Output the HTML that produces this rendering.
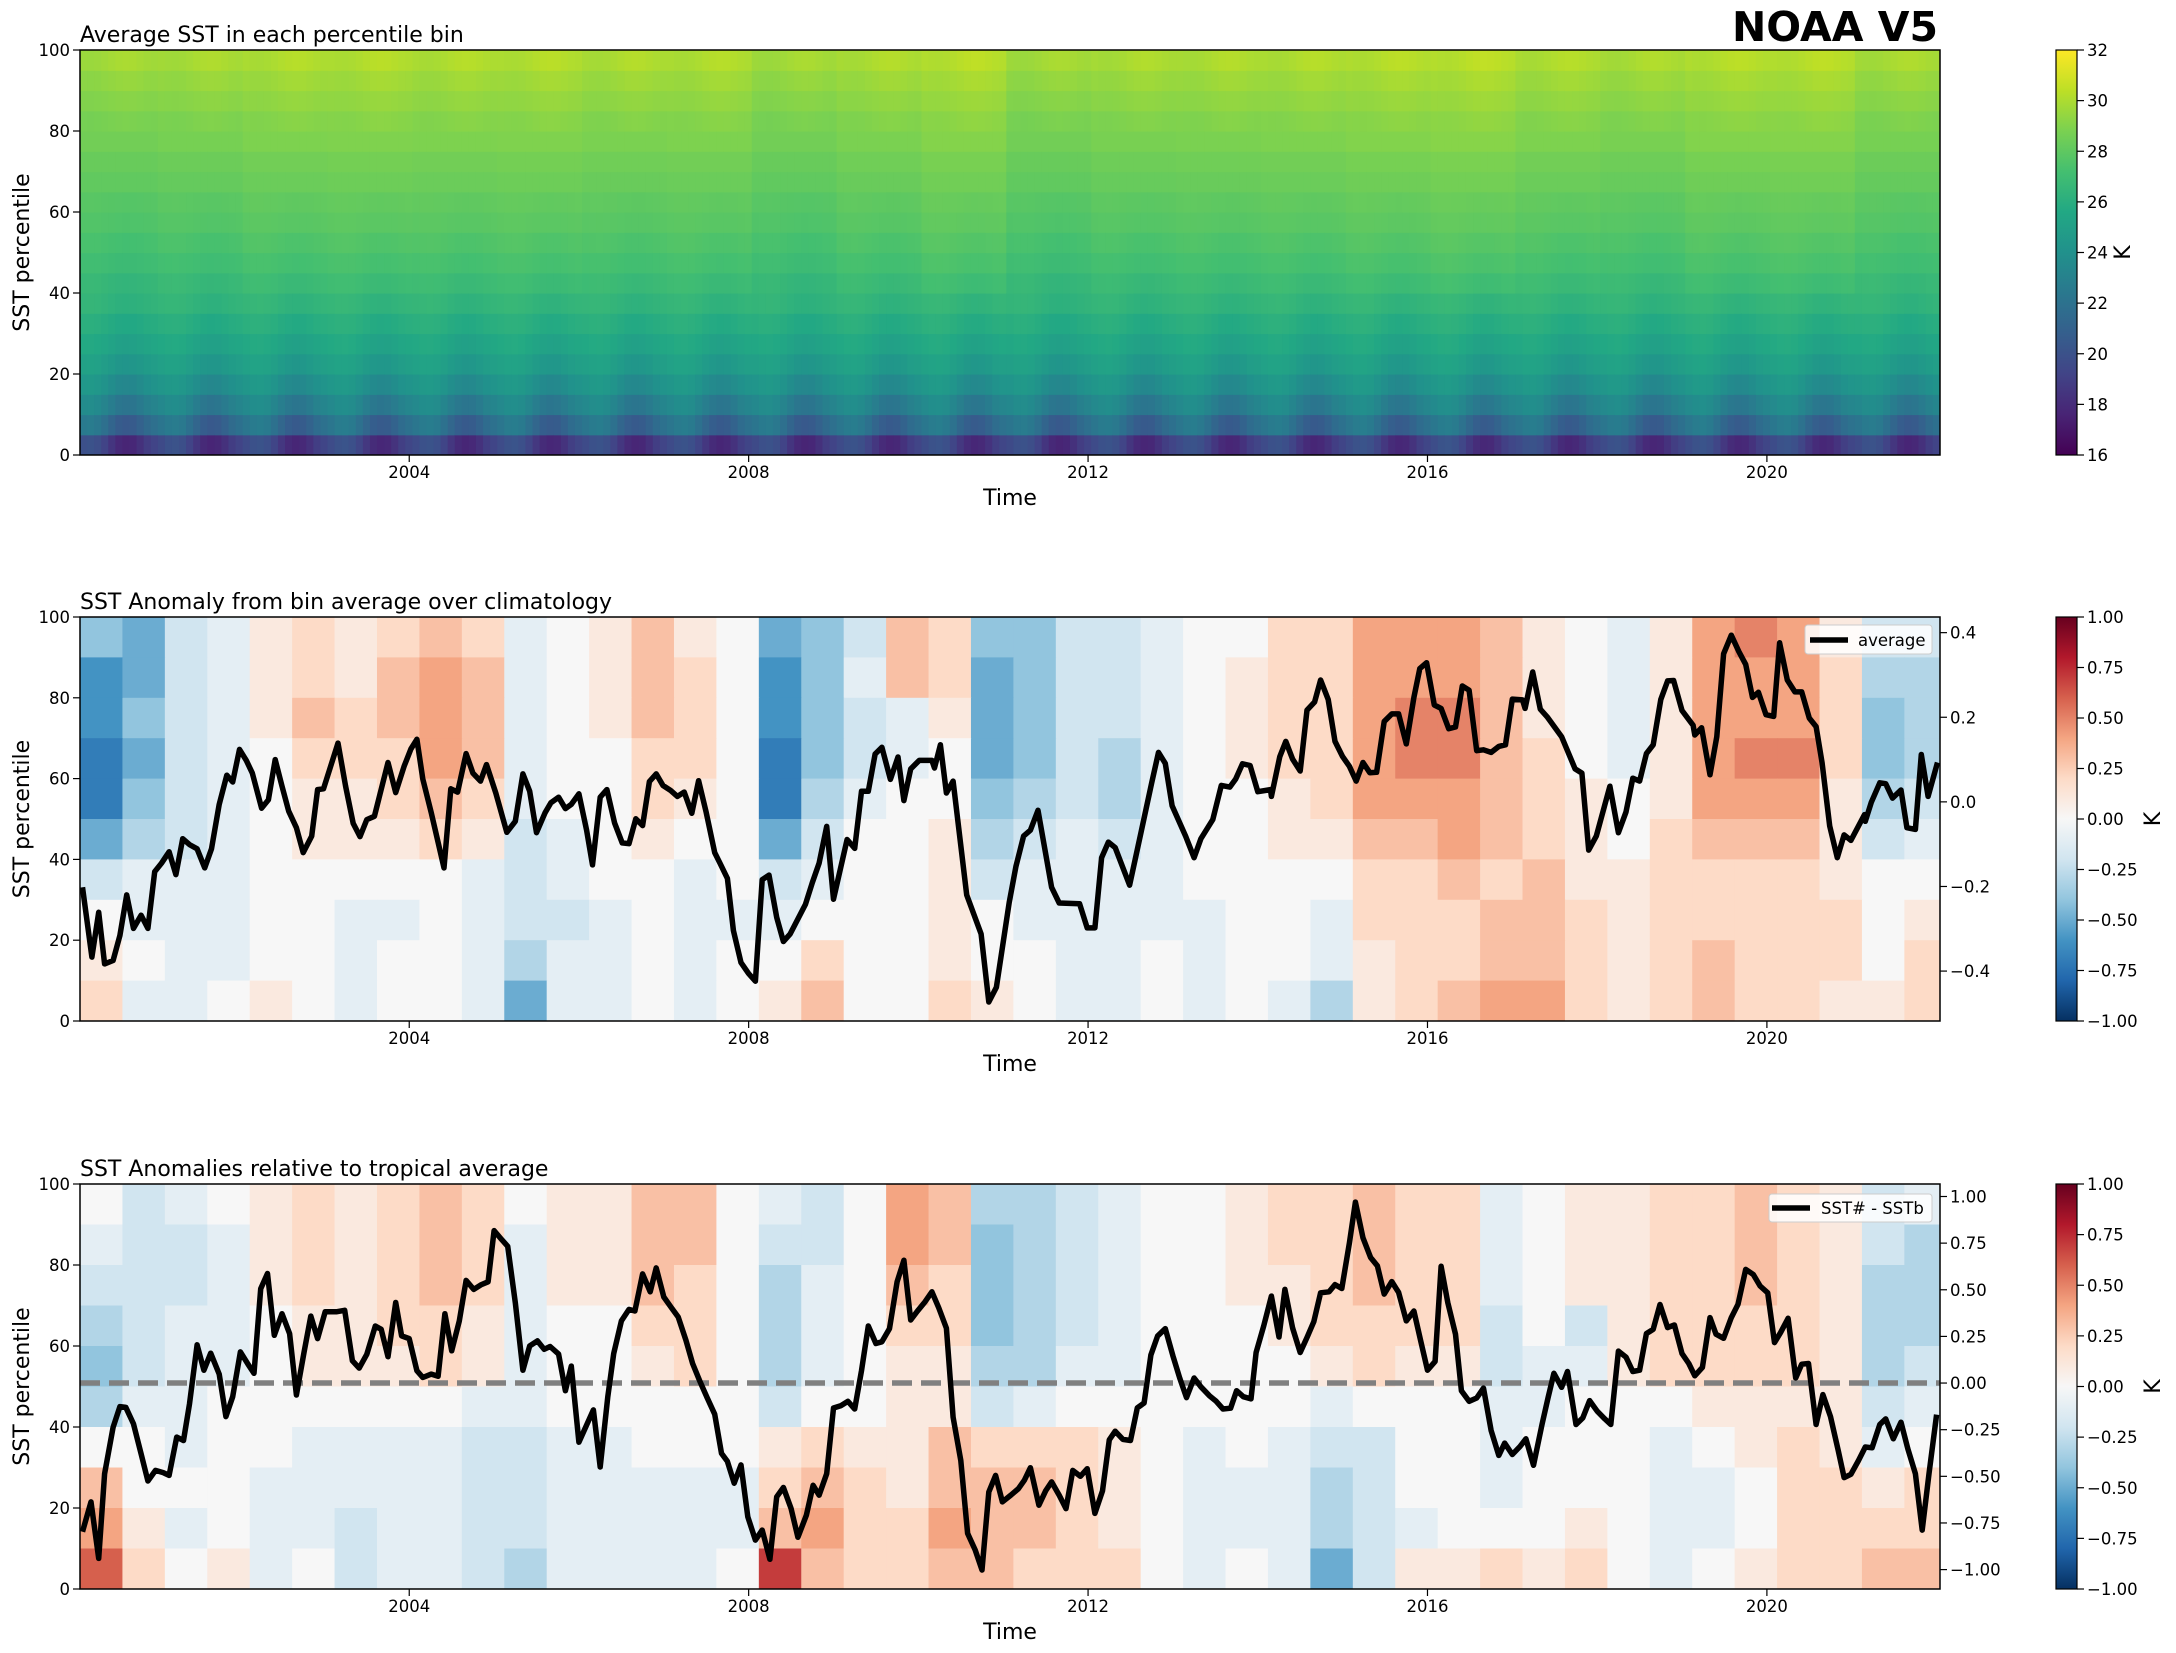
<!DOCTYPE html>
<html><head><meta charset="utf-8"><title>NOAA V5 SST percentile</title>
<style>
html,body{margin:0;padding:0;background:#fff;}
svg{display:block;font-family:"DejaVu Sans","Liberation Sans",sans-serif;}
.tk{font-size:16.5px;fill:#000;}
.ttl{font-size:22px;fill:#000;}
.lab{font-size:22px;fill:#000;}
</style></head>
<body>
<svg id="fig" width="2176" height="1653" viewBox="0 0 2176 1653" xmlns="http://www.w3.org/2000/svg">
<defs>
<clipPath id="clip1"><rect x="80" y="50" width="1860" height="405"/></clipPath>
<clipPath id="clip2"><rect x="80" y="617" width="1860" height="404"/></clipPath>
<clipPath id="clip3"><rect x="80" y="1184" width="1860" height="405"/></clipPath>
<linearGradient id="gradViridis" x1="0" y1="1" x2="0" y2="0"></linearGradient>
<linearGradient id="gradRdBu" x1="0" y1="1" x2="0" y2="0"></linearGradient>
</defs>
<rect x="0" y="0" width="2176" height="1653" fill="#fff"/>
<text x="1938" y="41" text-anchor="end" font-weight="bold" font-size="41">NOAA V5</text>
<text class="ttl" x="80" y="42">Average SST in each percentile bin</text>
<text class="ttl" x="80" y="609">SST Anomaly from bin average over climatology</text>
<text class="ttl" x="80" y="1176">SST Anomalies relative to tropical average</text>
<g id="g1" clip-path="url(#clip1)"></g>
<g id="g2" clip-path="url(#clip2)"></g>
<g id="g3" clip-path="url(#clip3)"></g>
<g id="axes"></g>
<g id="legend2">
<rect x="1805" y="625" width="127" height="29" rx="3" fill="#fff" fill-opacity="0.85" stroke="#ccc" stroke-width="1"/>
<line x1="1810" y1="640" x2="1848" y2="640" stroke="#000" stroke-width="5.5"/>
<text class="tk" x="1858" y="646">average</text>
</g>
<g id="legend3">
<rect x="1769" y="1194" width="163" height="28" rx="3" fill="#fff" fill-opacity="0.85" stroke="#ccc" stroke-width="1"/>
<line x1="1772" y1="1208" x2="1810" y2="1208" stroke="#000" stroke-width="5.5"/>
<text class="tk" x="1821" y="1214">SST# - SSTb</text>
</g>
</svg>
<script>
// ---------- data ----------
const xMinYear = 2000.12;
const xMaxYear = 2022.04;
const xTickYears = [2004, 2008, 2012, 2016, 2020];
const pctTicks = [0, 20, 40, 60, 80, 100];
const cb1Ticks = [16, 18, 20, 22, 24, 26, 28, 30, 32];
const cbAnomTicks = [-1.0, -0.75, -0.5, -0.25, 0, 0.25, 0.5, 0.75, 1.0];
const right2Ticks = [-0.4, -0.2, 0.0, 0.2, 0.4];
const right3Ticks = [-1.0, -0.75, -0.5, -0.25, 0, 0.25, 0.5, 0.75, 1.0];

// panel 1: viridis SST (bins of 5 percentiles, bottom to top)
const rowBase = [18.9, 21.6, 23.0, 24.0, 24.8, 25.4, 25.9, 26.4, 26.8, 27.2, 27.5, 27.8, 28.0, 28.3, 28.5, 28.8, 29.0, 29.3, 29.6, 30.0];
const rowSeasonWeight = [1.2, 1.1, 0.8, 0.6, 0.45, 0.35, 0.25, 0.2, 0.15, 0.1, 0.1, 0.05, 0.05, 0, 0, 0, -0.1, -0.1, -0.15, -0.2];
const monthCycle = [0.6, 0.9, 1.0, 0.8, 0.3, -0.3, -0.8, -1.0, -0.9, -0.5, 0.0, 0.3];
const yearAnomYears = [2000,2001,2002,2003,2004,2005,2006,2007,2008,2009,2010,2011,2012,2013,2014,2015,2016,2017,2018,2019,2020,2021];
const yearAnom = [-0.4,-0.2,0.1,0.2,0.1,0.2,0.0,0.1,-0.4,0.0,0.4,-0.4,-0.1,0.0,0.1,0.3,0.5,0.1,-0.1,0.3,0.4,-0.2];

// panels 2/3 anomaly grids: 44 half-year columns, 10 bins (top row = 90-100 pct); a=-1.0 .. k=0 .. u=+1.0
const anomRows2 = [
"gfij lmlm nmjk lnlk fgin mggi ijkk mmoo onlk jlop olii",
"efij lmln onjk lnmk egjn mfgi ijkl mmoo onlk jloo omhh",
"egij lnmn onjk lnmk egij lfgi ijkl mmop pnlk jloo omgh",
"dfij kmmm onjk kmmk dgij kfgi hjkl mmop pnmk jlop pmgh",
"dgij kllm nmjk kmlk dhjk kghi hjkk lmoo onml kloo olhi",
"fhij klll mlij klkk fikk lhij ijkk llnn onml kmnn nlij",
"ijjj kkkk kjij kkjk ijkk lijj jjkk kkmm nmnl lmmm mlkk",
"kjjj kkjj kjii jkjj jkkk lkjj jjjk kjmm mnnm lmmm mmkl",
"lkjj kkjk kjhj jkjk kmkk lkkj jkjk kjlm mnnm lmnm mmkm",
"mjjk lkjk kjfj jkjk lnkk mlkj jkjk jhlm noom lmnm mllm"
];
const anomRows3 = [
"kijk lmlm nmkl lnnk jiko nhhi jkkl mmnm mjkl lmmn mlij",
"jiij lmlm nmjl lnnk iiko nghi jkkl mmnm mjkl lmmn mlih",
"iiij lmlm nmjl lnmk hjkn mghi jkkl lmnm mjkl lmmn mlhh",
"hijj kllm mljk kmmk hjkm mghi jkkk lmmm miki lmmm mlhh",
"gijj klll mljk klmk hjkl lhhj jkkk klml lijj lmmm mlhi",
"hjjk kkkk kjjk kkkk ikkl lijk kkkk kjkk kjjk kkll llij",
"kkjk kjjj jiij jkkk lmll nmmm lkjk jiik kjkk kjkl mljk",
"nkkk jjjj jiij jjjj mnml nnnm lkjj jhik kjkk kjjk mmlm",
"oljk jjij jiij jjjj nomm onnm lkjj jhij kkkl kjjk mmmm",
"qmkl jkij jihj jjjk rnmm nnmm mkjk jfil lmlm kjkl mmnn"
];

// panel 2 line: "average"
const avgYears = [2000.15,2000.26,2000.34,2000.41,2000.51,2000.59,2000.67,2000.75,2000.84,2000.92,2001.00,2001.08,2001.17,2001.25,2001.33,2001.41,2001.50,2001.59,2001.67,2001.76,2001.85,2001.92,2002.00,2002.08,2002.15,2002.26,2002.34,2002.42,2002.50,2002.58,2002.67,2002.75,2002.85,2002.92,2002.99,2003.16,2003.25,2003.34,2003.42,2003.50,2003.59,2003.75,2003.84,2003.94,2004.02,2004.09,2004.16,2004.26,2004.41,2004.49,2004.57,2004.67,2004.75,2004.84,2004.91,2005.02,2005.15,2005.25,2005.34,2005.42,2005.50,2005.60,2005.67,2005.76,2005.84,2005.91,2006.00,2006.09,2006.16,2006.25,2006.33,2006.42,2006.51,2006.59,2006.67,2006.75,2006.83,2006.91,2006.99,2007.08,2007.16,2007.24,2007.33,2007.41,2007.50,2007.60,2007.66,2007.75,2007.82,2007.91,2008.00,2008.08,2008.16,2008.24,2008.33,2008.41,2008.49,2008.67,2008.75,2008.83,2008.92,2009.00,2009.16,2009.25,2009.33,2009.41,2009.49,2009.57,2009.67,2009.76,2009.83,2009.91,2010.01,2010.16,2010.19,2010.26,2010.33,2010.41,2010.57,2010.74,2010.83,2010.92,2011.07,2011.15,2011.24,2011.32,2011.41,2011.57,2011.66,2011.90,2011.99,2012.08,2012.16,2012.24,2012.32,2012.49,2012.63,2012.75,2012.83,2012.91,2012.99,2013.15,2013.25,2013.33,2013.47,2013.57,2013.67,2013.74,2013.82,2013.91,2014.00,2014.15,2014.16,2014.26,2014.33,2014.41,2014.50,2014.58,2014.67,2014.74,2014.83,2014.91,2015.00,2015.08,2015.16,2015.24,2015.32,2015.40,2015.49,2015.58,2015.66,2015.75,2015.84,2015.91,2015.99,2016.08,2016.16,2016.25,2016.33,2016.41,2016.49,2016.58,2016.66,2016.75,2016.84,2016.92,2017.00,2017.12,2017.15,2017.24,2017.33,2017.41,2017.58,2017.74,2017.82,2017.90,2017.99,2018.15,2018.25,2018.34,2018.42,2018.50,2018.58,2018.66,2018.75,2018.83,2018.90,2019.00,2019.13,2019.15,2019.23,2019.33,2019.41,2019.49,2019.58,2019.67,2019.75,2019.83,2019.90,2019.99,2020.08,2020.15,2020.24,2020.33,2020.41,2020.50,2020.58,2020.65,2020.74,2020.83,2020.91,2020.99,2021.15,2021.16,2021.23,2021.33,2021.40,2021.48,2021.58,2021.65,2021.75,2021.82,2021.90,2022.01];
const avgValues = [-0.202,-0.367,-0.261,-0.383,-0.375,-0.316,-0.220,-0.299,-0.268,-0.299,-0.165,-0.145,-0.118,-0.172,-0.087,-0.101,-0.111,-0.156,-0.111,-0.006,0.063,0.047,0.124,0.098,0.068,-0.015,0.005,0.100,0.037,-0.022,-0.061,-0.120,-0.081,0.029,0.031,0.139,0.037,-0.051,-0.082,-0.042,-0.034,0.093,0.022,0.084,0.125,0.148,0.054,-0.026,-0.156,0.031,0.023,0.114,0.068,0.049,0.088,0.021,-0.072,-0.046,0.066,0.025,-0.073,-0.026,-0.002,0.011,-0.016,-0.006,0.019,-0.067,-0.149,0.011,0.029,-0.050,-0.097,-0.099,-0.040,-0.056,0.048,0.066,0.039,0.027,0.013,0.023,-0.027,0.050,-0.025,-0.120,-0.144,-0.181,-0.304,-0.380,-0.406,-0.424,-0.184,-0.173,-0.273,-0.330,-0.312,-0.242,-0.191,-0.145,-0.058,-0.230,-0.089,-0.110,0.025,0.025,0.113,0.129,0.053,0.106,0.003,0.078,0.098,0.098,0.080,0.135,0.021,0.049,-0.220,-0.312,-0.473,-0.438,-0.238,-0.153,-0.081,-0.067,-0.020,-0.202,-0.239,-0.241,-0.298,-0.298,-0.132,-0.095,-0.108,-0.197,-0.067,0.045,0.117,0.091,-0.009,-0.081,-0.132,-0.087,-0.042,0.039,0.035,0.054,0.090,0.086,0.024,0.029,0.013,0.107,0.143,0.101,0.073,0.217,0.236,0.288,0.242,0.143,0.107,0.084,0.049,0.093,0.069,0.070,0.190,0.208,0.208,0.137,0.247,0.315,0.329,0.229,0.221,0.173,0.177,0.274,0.264,0.121,0.123,0.117,0.131,0.135,0.243,0.241,0.221,0.307,0.219,0.201,0.154,0.078,0.068,-0.114,-0.081,0.037,-0.073,-0.024,0.056,0.049,0.114,0.135,0.242,0.286,0.287,0.216,0.181,0.158,0.175,0.064,0.154,0.350,0.394,0.355,0.325,0.247,0.259,0.206,0.202,0.376,0.288,0.260,0.260,0.198,0.178,0.092,-0.057,-0.132,-0.078,-0.091,-0.030,-0.046,-0.001,0.045,0.043,0.009,0.028,-0.061,-0.065,0.112,0.013,0.093];

// panel 3 line: "SST# - SSTb"
const tropYears = [2000.15,2000.25,2000.34,2000.41,2000.51,2000.59,2000.66,2000.75,2000.84,2000.92,2001.01,2001.10,2001.17,2001.26,2001.34,2001.41,2001.50,2001.58,2001.66,2001.76,2001.84,2001.92,2002.01,2002.10,2002.17,2002.25,2002.33,2002.41,2002.50,2002.59,2002.67,2002.76,2002.84,2002.92,2003.01,2003.14,2003.24,2003.33,2003.41,2003.50,2003.60,2003.67,2003.75,2003.84,2003.91,2004.00,2004.09,2004.16,2004.26,2004.34,2004.42,2004.50,2004.59,2004.67,2004.76,2004.85,2004.93,2005.00,2005.09,2005.16,2005.25,2005.34,2005.42,2005.51,2005.59,2005.66,2005.76,2005.84,2005.91,2006.00,2006.17,2006.25,2006.34,2006.41,2006.50,2006.59,2006.66,2006.75,2006.84,2006.91,2007.00,2007.09,2007.17,2007.26,2007.34,2007.43,2007.51,2007.60,2007.68,2007.75,2007.83,2007.91,2007.99,2008.08,2008.16,2008.25,2008.33,2008.41,2008.50,2008.58,2008.68,2008.76,2008.83,2008.92,2009.00,2009.09,2009.17,2009.25,2009.33,2009.41,2009.50,2009.57,2009.66,2009.75,2009.83,2009.91,2009.99,2010.08,2010.16,2010.24,2010.33,2010.41,2010.50,2010.58,2010.67,2010.75,2010.83,2010.91,2010.99,2011.09,2011.18,2011.25,2011.32,2011.42,2011.50,2011.57,2011.66,2011.74,2011.82,2011.91,2011.99,2012.08,2012.17,2012.25,2012.32,2012.41,2012.50,2012.58,2012.66,2012.74,2012.82,2012.91,2013.00,2013.08,2013.16,2013.25,2013.33,2013.43,2013.51,2013.59,2013.68,2013.75,2013.83,2013.92,2013.98,2014.07,2014.16,2014.25,2014.32,2014.41,2014.50,2014.58,2014.66,2014.74,2014.84,2014.91,2014.99,2015.08,2015.15,2015.24,2015.33,2015.41,2015.49,2015.58,2015.66,2015.75,2015.84,2015.92,2016.00,2016.09,2016.16,2016.24,2016.33,2016.40,2016.49,2016.58,2016.66,2016.75,2016.84,2016.91,2017.00,2017.09,2017.16,2017.25,2017.35,2017.42,2017.49,2017.58,2017.65,2017.75,2017.83,2017.91,2018.00,2018.09,2018.16,2018.25,2018.34,2018.42,2018.50,2018.58,2018.66,2018.74,2018.83,2018.91,2019.00,2019.08,2019.15,2019.24,2019.33,2019.40,2019.49,2019.58,2019.66,2019.75,2019.84,2019.92,2020.01,2020.09,2020.16,2020.25,2020.34,2020.41,2020.49,2020.58,2020.66,2020.75,2020.84,2020.91,2020.99,2021.08,2021.16,2021.24,2021.33,2021.40,2021.49,2021.58,2021.66,2021.75,2021.83,2021.91,2022.00];
const tropValues = [-0.797,-0.637,-0.940,-0.486,-0.237,-0.126,-0.130,-0.219,-0.379,-0.525,-0.468,-0.480,-0.495,-0.290,-0.308,-0.112,0.205,0.069,0.160,0.048,-0.180,-0.073,0.167,0.101,0.052,0.505,0.587,0.256,0.372,0.265,-0.064,0.164,0.359,0.238,0.382,0.382,0.390,0.119,0.080,0.154,0.306,0.288,0.141,0.432,0.253,0.238,0.066,0.030,0.048,0.036,0.372,0.173,0.333,0.550,0.502,0.528,0.543,0.817,0.769,0.733,0.431,0.069,0.199,0.226,0.181,0.196,0.155,-0.041,0.091,-0.317,-0.144,-0.450,-0.073,0.158,0.333,0.395,0.386,0.585,0.489,0.617,0.461,0.404,0.354,0.230,0.105,0.004,-0.078,-0.167,-0.377,-0.420,-0.537,-0.439,-0.717,-0.842,-0.788,-0.945,-0.610,-0.560,-0.673,-0.827,-0.708,-0.548,-0.601,-0.486,-0.134,-0.121,-0.098,-0.139,0.066,0.306,0.212,0.221,0.292,0.543,0.658,0.338,0.386,0.436,0.489,0.404,0.294,-0.183,-0.415,-0.806,-0.895,-1.002,-0.584,-0.495,-0.637,-0.601,-0.566,-0.521,-0.454,-0.655,-0.578,-0.530,-0.601,-0.673,-0.468,-0.500,-0.459,-0.699,-0.578,-0.304,-0.258,-0.302,-0.308,-0.133,-0.107,0.151,0.252,0.292,0.146,0.027,-0.078,0.027,-0.020,-0.068,-0.098,-0.139,-0.135,-0.041,-0.073,-0.085,0.164,0.306,0.466,0.247,0.502,0.295,0.164,0.244,0.329,0.484,0.489,0.528,0.507,0.751,0.970,0.778,0.673,0.628,0.477,0.544,0.486,0.333,0.386,0.226,0.069,0.116,0.626,0.431,0.262,-0.041,-0.098,-0.080,-0.027,-0.254,-0.388,-0.322,-0.383,-0.340,-0.299,-0.441,-0.222,-0.080,0.052,-0.023,0.062,-0.222,-0.187,-0.094,-0.151,-0.192,-0.222,0.171,0.139,0.062,0.069,0.265,0.288,0.421,0.297,0.311,0.158,0.105,0.039,0.084,0.351,0.262,0.240,0.351,0.422,0.609,0.582,0.520,0.484,0.217,0.270,0.347,0.027,0.101,0.105,-0.222,-0.062,-0.180,-0.361,-0.507,-0.489,-0.415,-0.343,-0.347,-0.222,-0.192,-0.299,-0.210,-0.352,-0.486,-0.788,-0.486,-0.169];

// ---------- helpers ----------
const NS = 'http://www.w3.org/2000/svg';
const L = 80, R = 1940;
const P1 = {top: 50, bottom: 455};
const P2 = {top: 617, bottom: 1021, vmin: -0.518, vmax: 0.437};
const P3 = {top: 1184, bottom: 1589, vmin: -1.104, vmax: 1.067};
const CBX = 2056, CBW = 21;

function xOf(yr) { return L + (yr - xMinYear) / (xMaxYear - xMinYear) * (R - L); }
function yPct(p, P) { return P.bottom - p / 100 * (P.bottom - P.top); }
function yVal(v, P) { return P.bottom - (v - P.vmin) / (P.vmax - P.vmin) * (P.bottom - P.top); }

const viridisStops = ['#440154','#482475','#414487','#355f8d','#2a788e','#21918c','#22a884','#44bf70','#7ad151','#bddf26','#fde725'];
const rdbuStops = ['#053061','#2166ac','#4393c3','#92c5de','#d1e5f0','#f7f7f7','#fddbc7','#f4a582','#d6604d','#b2182b','#67001f'];
function hex2rgb(h){return [parseInt(h.substr(1,2),16),parseInt(h.substr(3,2),16),parseInt(h.substr(5,2),16)];}
function cmap(stops, t){
  t = Math.max(0, Math.min(1, t));
  const f = t * (stops.length - 1), i = Math.min(Math.floor(f), stops.length - 2), u = f - i;
  const a = hex2rgb(stops[i]), b = hex2rgb(stops[i+1]);
  return 'rgb(' + a.map((c,k)=>Math.round(c + (b[k]-c)*u)).join(',') + ')';
}
function mk(tag, attrs, parent){
  const e = document.createElementNS(NS, tag);
  for (const k in attrs) e.setAttribute(k, attrs[k]);
  parent.appendChild(e);
  return e;
}

// gradients
[['gradViridis', viridisStops], ['gradRdBu', rdbuStops]].forEach(([id, st]) => {
  const g = document.getElementById(id);
  st.forEach((c, i) => mk('stop', {offset: (i/(st.length-1)*100)+'%', 'stop-color': c}, g));
});

// ---------- panel 1 heatmap ----------
const g1 = document.getElementById('g1');
const nMonths = Math.ceil((xMaxYear - xMinYear) * 12);
for (let j = 0; j < nMonths; j++) {
  const yr0 = xMinYear + j/12, yr1 = yr0 + 1/12;
  const mid = yr0 + 1/24;
  const month = Math.floor((mid - Math.floor(mid)) * 12) % 12;
  const yi = Math.max(0, Math.min(yearAnom.length-1, Math.floor(mid) - yearAnomYears[0]));
  for (let r = 0; r < rowBase.length; r++) {
    const w = r >= 8 ? 1 : 0.3;
    const v = rowBase[r] + monthCycle[month] * rowSeasonWeight[r] + yearAnom[yi] * w * 0.6;
    const x0 = xOf(yr0), x1 = xOf(yr1);
    const y0 = yPct((r+1)*5, P1), y1 = yPct(r*5, P1);
    const rc = mk('rect', {x: x0.toFixed(2), y: y0.toFixed(2), width: (x1-x0+0.6).toFixed(2), height: (y1-y0+0.6).toFixed(2), fill: cmap(viridisStops, (v-16)/16)}, g1);
    
    
  }
}

// ---------- anomaly heatmaps ----------
function drawAnom(rows, gid, P) {
  const g = document.getElementById(gid);
  rows.forEach((rowStr, ri) => {
    const s = rowStr.replace(/ /g, '');
    const pHi = 100 - ri*10, pLo = pHi - 10;
    for (let c = 0; c < s.length; c++) {
      const v = (s.charCodeAt(c) - 107) / 10;
      const x0 = xOf(xMinYear + c*0.5), x1 = xOf(xMinYear + (c+1)*0.5);
      const y0 = yPct(pHi, P), y1 = yPct(pLo, P);
      const rc = mk('rect', {x: x0.toFixed(2), y: y0.toFixed(2), width: (x1-x0+0.6).toFixed(2), height: (y1-y0+0.6).toFixed(2), fill: cmap(rdbuStops, (v+1)/2)}, g);
      
      
    }
  });
}
drawAnom(anomRows2, 'g2', P2);
drawAnom(anomRows3, 'g3', P3);

// ---------- lines ----------
const svg = document.getElementById('fig');
const dash = mk('line', {x1: L, x2: R, y1: yVal(0, P3), y2: yVal(0, P3), stroke: '#808080', 'stroke-width': 5.5, 'stroke-dasharray': '20,9', 'clip-path': 'url(#clip3)'}, svg);



function drawLine(yrs, vals, P, clip, name) {
  const d = yrs.map((y, i) => (i ? 'L' : 'M') + xOf(y).toFixed(1) + ',' + yVal(vals[i], P).toFixed(1)).join('');
  const p = mk('path', {d: d, fill: 'none', stroke: '#000', 'stroke-width': 5.5, 'stroke-linejoin': 'round', 'clip-path': clip}, svg);
  
  
}
drawLine(avgYears, avgValues, P2, 'url(#clip2)', 'average-line');
drawLine(tropYears, tropValues, P3, 'url(#clip3)', 'sst-diff-line');

// bring legends on top
svg.appendChild(document.getElementById('legend2'));
svg.appendChild(document.getElementById('legend3'));

// ---------- axes ----------
const ax = document.getElementById('axes');
svg.appendChild(ax);
function txt(x, y, s, cls, anchor, name, extra) {
  const t = mk('text', Object.assign({x: x, y: y, class: cls, 'text-anchor': anchor}, extra || {}), ax);
  t.textContent = s;
  
  
  return t;
}
function fmtMinus(s){ return s.replace('-', '\u2212'); }

[P1, P2, P3].forEach((P, pi) => {
  const fr = mk('rect', {x: L, y: P.top, width: R-L, height: P.bottom-P.top, fill: 'none', stroke: '#000', 'stroke-width': 1.5}, ax);
  
  
  xTickYears.forEach(yv => {
    const x = xOf(yv);
    mk('line', {x1: x, x2: x, y1: P.bottom, y2: P.bottom + 7, stroke: '#000', 'stroke-width': 1.2}, ax);
    txt(x, P.bottom + 23, String(yv), 'tk', 'middle', 'x-tick-label');
  });
  pctTicks.forEach(p => {
    const y = yPct(p, P);
    mk('line', {x1: L - 7, x2: L, y1: y, y2: y, stroke: '#000', 'stroke-width': 1.2}, ax);
    txt(L - 10, y + 6, String(p), 'tk', 'end', 'y-tick-label');
  });
  txt((L + R)/2, P.bottom + 50, 'Time', 'lab', 'middle', 'x-axis-title');
  const cy = (P.top + P.bottom)/2;
  txt(29, cy, 'SST percentile', 'lab', 'middle', 'y-axis-title', {transform: 'rotate(-90 29 ' + cy + ')'});

  // colorbar
  const cb = mk('rect', {x: CBX, y: P.top, width: CBW, height: P.bottom - P.top, fill: pi === 0 ? 'url(#gradViridis)' : 'url(#gradRdBu)', stroke: '#000', 'stroke-width': 1.2}, ax);
  
  
  const ticks = pi === 0 ? cb1Ticks : cbAnomTicks;
  const lo = pi === 0 ? 16 : -1, hi = pi === 0 ? 32 : 1;
  ticks.forEach(t => {
    const y = P.bottom - (t - lo)/(hi - lo) * (P.bottom - P.top);
    mk('line', {x1: CBX + CBW, x2: CBX + CBW + 7, y1: y, y2: y, stroke: '#000', 'stroke-width': 1.2}, ax);
    txt(CBX + CBW + 10, y + 6, pi === 0 ? String(t) : fmtMinus(t.toFixed(2)), 'tk', 'start', 'colorbar-tick-label');
  });
  const kx = pi === 0 ? 2130 : 2160;
  txt(kx, cy, 'K', 'lab', 'middle', 'colorbar-title', {transform: 'rotate(-90 ' + kx + ' ' + cy + ')'});
});

// right axes
[[P2, right2Ticks, 1], [P3, right3Ticks, 2]].forEach(([P, ticks, dec]) => {
  ticks.forEach(t => {
    const y = yVal(t, P);
    mk('line', {x1: R, x2: R + 7, y1: y, y2: y, stroke: '#000', 'stroke-width': 1.2}, ax);
    txt(R + 10, y + 6, fmtMinus(t.toFixed(dec)), 'tk', 'start', 'right-tick-label');
  });
});
</script>
</body></html>
